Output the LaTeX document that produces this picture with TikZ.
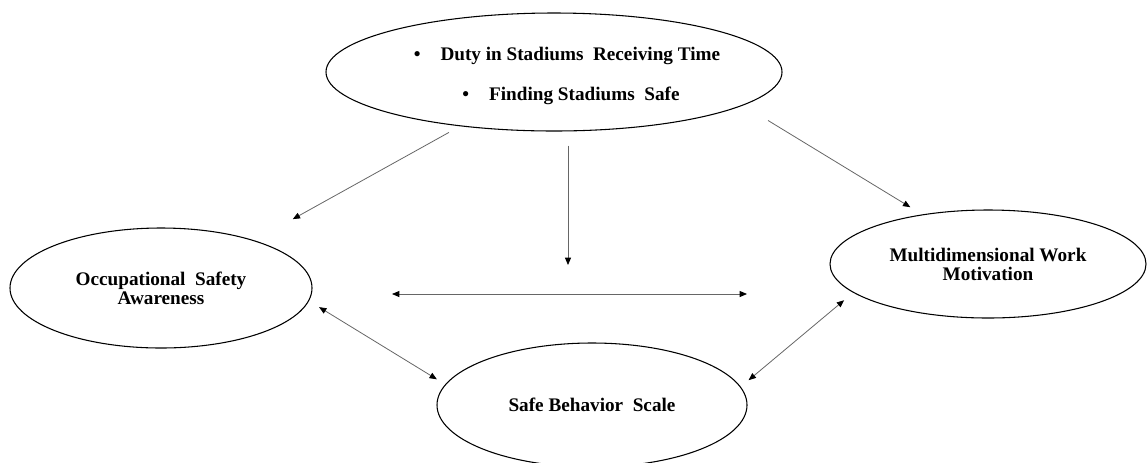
\documentclass[tikz,border=0pt]{standalone}
\usepackage{fontspec}
\setmainfont{Liberation Serif}
\usetikzlibrary{arrows.meta,shapes.geometric}
\begin{document}
\begin{tikzpicture}[x=0.75pt,y=-0.75pt,
  ell/.style={draw=black,line width=0.8pt,ellipse,inner sep=0pt,align=center,
    font=\bfseries\fontsize{14.4}{14.25}\selectfont},
  lbl/.style={inner sep=0pt,font=\bfseries\fontsize{14.4}{16}\selectfont},
  arr/.style={draw=black!60,line width=0.6pt,-{Triangle[length=5.5pt,width=4.5pt,color=black]}},
  darr/.style={draw=black!60,line width=0.6pt,{Triangle[length=5.5pt,width=4.5pt,color=black]}-{Triangle[length=5.5pt,width=4.5pt,color=black]}}]
\useasboundingbox (0,0) rectangle (1148,462);

\node[ell,minimum width=342pt,minimum height=88.5pt] (top) at (554,72) {};
\node[lbl] (t1) at (567,56) {\textbullet\hspace{15pt}Duty in Stadiums\ \ Receiving Time};
\node[lbl] (t2) at (571,96) {\textbullet\hspace{15pt}Finding Stadiums\ \ Safe};

\node[ell,minimum width=226.5pt,minimum height=90pt] (left) at (161,288) {Occupational\ \ Safety\\Awareness};
\node[ell,minimum width=237pt,minimum height=81pt] (right) at (988,264) {Multidimensional Work\\Motivation};
\node[ell,minimum width=232.5pt,minimum height=93pt] (bottom) at (592,405) {Safe Behavior\ \ Scale};

\coordinate (vtip) at (568,265);
\coordinate (h1) at (392,294);
\coordinate (h2) at (747,294);

\draw[arr,shorten <=9.5pt,shorten >=32.8pt] (top.210.15) -- (left.27.96);
\draw[arr] ([yshift=-10.5pt]top.south -| vtip) -- (vtip);
\draw[arr,shorten <=21.75pt,shorten >=10.4pt] (top.-10.8) -- (right.143.4);
\draw[darr] (h1) -- (h2);
\draw[darr,shorten <=8.85pt,shorten >=7.3pt] (left.-5.4) -- (bottom.172.24);
\draw[darr,shorten <=7.7pt,shorten >=8.8pt] (bottom.7.09) -- (right.192.05);
\end{tikzpicture}
\end{document}
